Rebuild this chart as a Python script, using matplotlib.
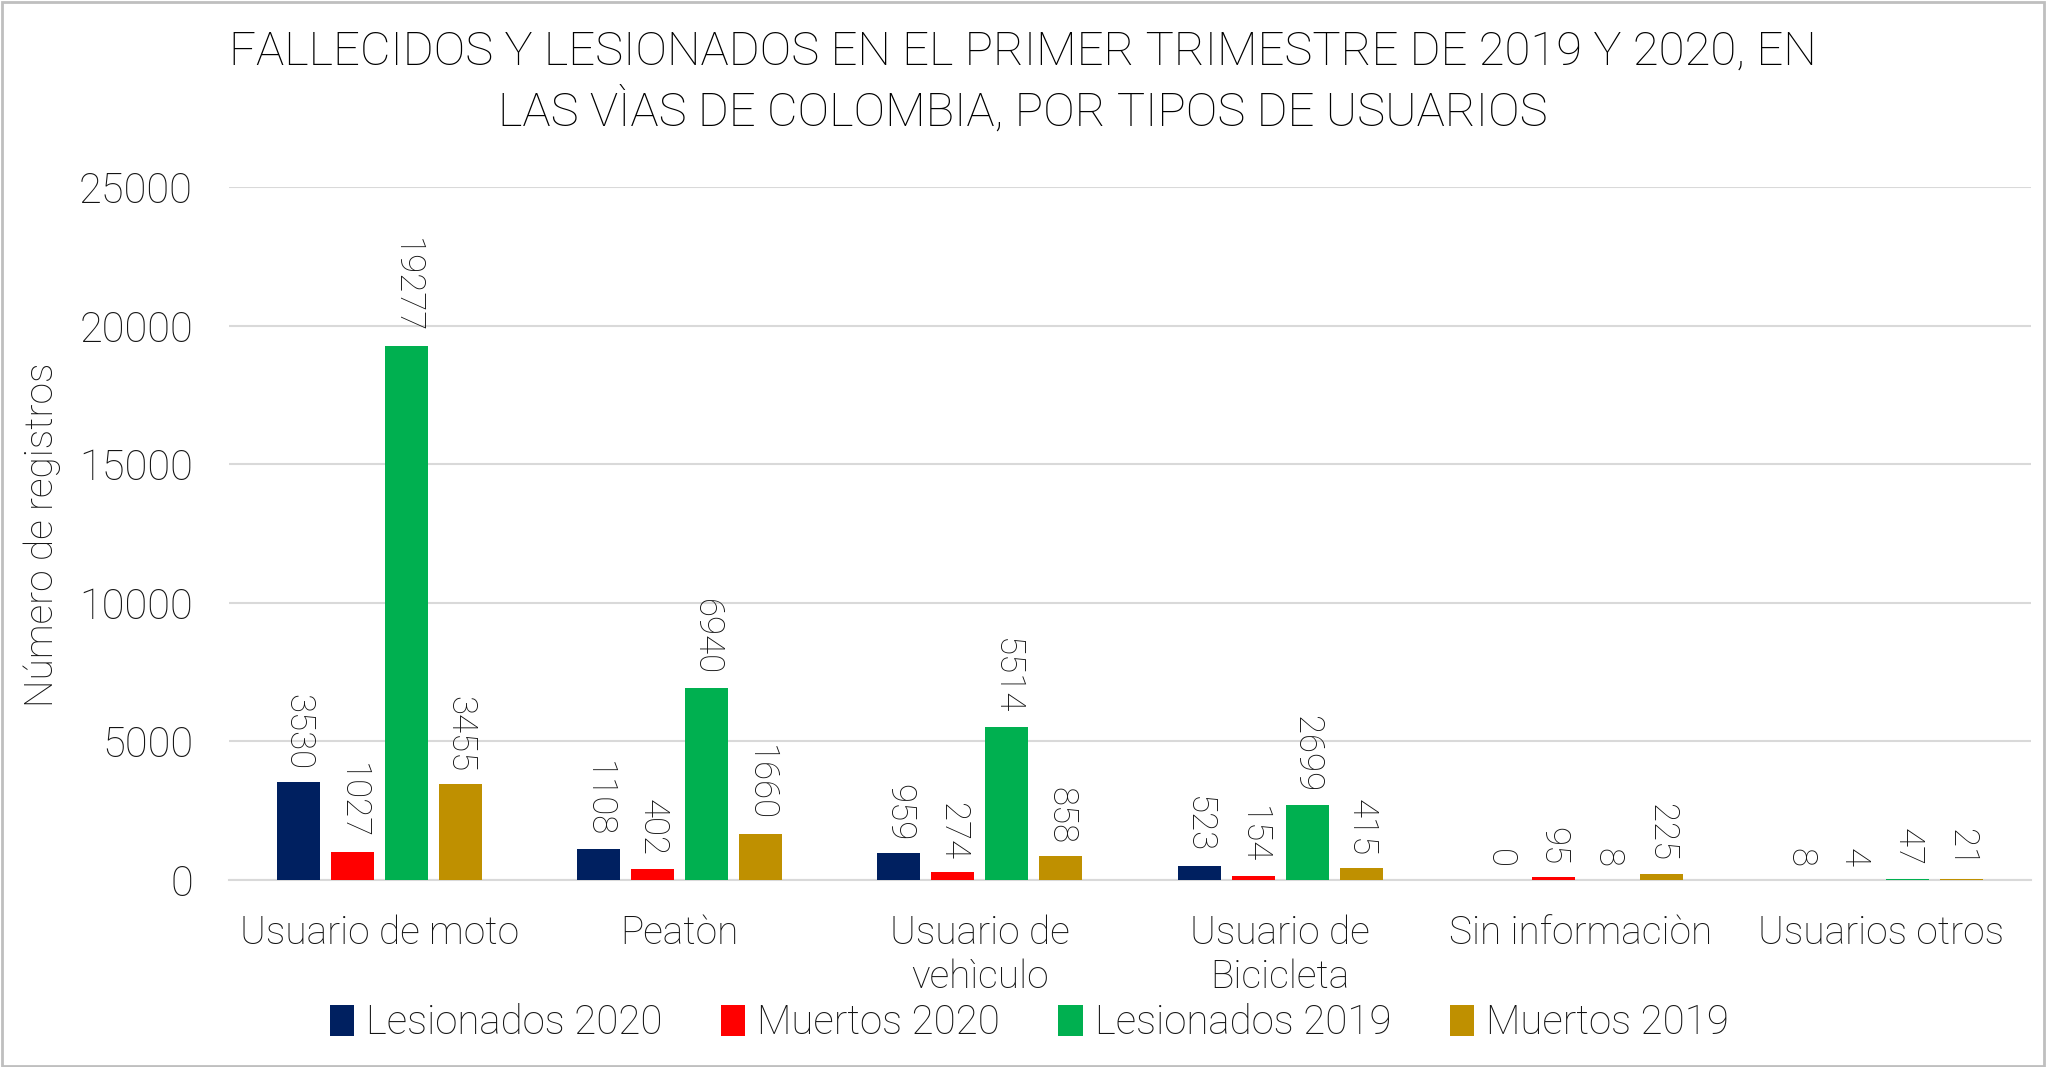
import matplotlib
matplotlib.use("Agg")
import matplotlib.pyplot as plt
import numpy as np
from matplotlib.patches import Rectangle

categories = ["Usuario de moto", "Peatòn", "Usuario de\nvehìculo", "Usuario de\nBicicleta",
              "Sin informaciòn", "Usuarios otros"]
series_names = ["Lesionados 2020", "Muertos 2020", "Lesionados 2019", "Muertos 2019"]
lesionados_2020 = [3530, 1108, 959, 523, 0, 8]
muertos_2020 = [1027, 402, 274, 154, 95, 4]
lesionados_2019 = [19277, 6940, 5514, 2699, 8, 47]
muertos_2019 = [3455, 1660, 858, 415, 225, 21]
colors = ["#002060", "#FF0000", "#00B050", "#BF9000"]
yticks = [0, 5000, 10000, 15000, 20000, 25000]

plt.rcParams['font.family'] = ['Roboto', 'DejaVu Sans']
FW = 'light'
TC = '#141414'

fig = plt.figure(figsize=(20.48, 10.67), dpi=100)
ax = fig.add_axes([229/2048, 1-880/1067, (2031-229)/2048, (880-187)/1067])

series = [lesionados_2020, muertos_2020, lesionados_2019, muertos_2019]
x = np.arange(len(categories))
width = 0.143
step = 0.18
offsets = (np.arange(4) - 1.5) * step
for i, (vals, c, name) in enumerate(zip(series, colors, series_names)):
    bars = ax.bar(x + offsets[i], vals, width, color=c, label=name, zorder=3)
    for b, v in zip(bars, vals):
        ax.text(b.get_x() + b.get_width()/2, v + 450, str(v), rotation=270,
                ha='center', va='bottom', fontsize=25, color=TC, fontweight=FW)

ax.set_xlim(-0.5, len(categories) - 0.5)
ax.set_ylim(0, 25000)
ax.set_yticks(yticks)
ax.set_yticklabels([str(t) for t in yticks], fontsize=30, color=TC, fontweight=FW)
ax.set_xticks(x)
ax.set_xticklabels(categories, fontsize=28, color=TC, fontweight=FW, linespacing=1.2)
ax.tick_params(axis='both', length=0)
ax.tick_params(axis='x', pad=25)
ax.tick_params(axis='y', pad=26)
ax.grid(axis='y', color='#D9D9D9', linewidth=1.5, zorder=0)
for s in ['top', 'right', 'left']:
    ax.spines[s].set_visible(False)
ax.spines['bottom'].set_color('#D9D9D9')
ax.spines['bottom'].set_linewidth(1.5)

fig.text(42/2048, 1-535/1067, "Número de registros", rotation=90, ha='center', va='center',
         fontsize=28, color=TC, fontweight=FW)

fig.text(783/1568, 1-52/1067, "FALLECIDOS Y LESIONADOS EN EL PRIMER TRIMESTRE DE 2019 Y 2020, EN",
         ha='center', va='center', fontsize=34, color='black', fontweight=FW)
fig.text(783/1568, 1-111/1067, "LAS VÌAS DE COLOMBIA, POR TIPOS DE USUARIOS",
         ha='center', va='center', fontsize=34, color='black', fontweight=FW)

leg = fig.legend(loc='center', bbox_to_anchor=(788/1568, 1-1023/1067), ncol=4, frameon=False,
                 prop={'size': 29, 'weight': FW}, handlelength=0.6, handleheight=0.8,
                 columnspacing=1.45, handletextpad=0.3)
for t in leg.get_texts():
    t.set_color(TC)

fig.patches.append(Rectangle((0.001, 0.001), 0.997, 0.997, transform=fig.transFigure,
                             fill=False, edgecolor='#BFBFBF', linewidth=2))

fig.savefig("out.png", dpi=100, facecolor='white')
